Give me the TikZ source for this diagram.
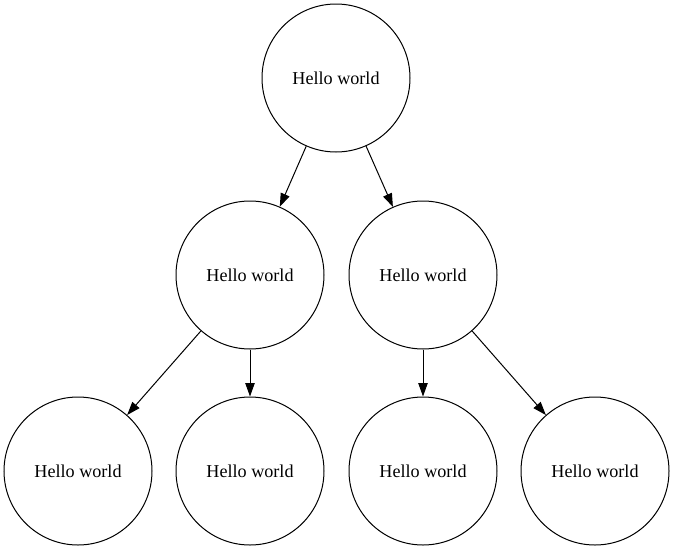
\documentclass[tikz,border=0pt]{standalone}
\usepackage{fontspec}
\setmainfont{Liberation Serif}
\usetikzlibrary{arrows.meta}

\begin{document}
\begin{tikzpicture}[x=0.75pt,y=-0.75pt]
      \useasboundingbox (0,0) rectangle (675,550);
      \begin{scope}[every node/.style={draw,circle,line width=0.75pt,minimum size=111pt,inner sep=0pt,font=\fontsize{13.6}{16}\selectfont}]
        \node (A) at (336,78) {Hello world};
        \node (B) at (250,275) {Hello world};
        \node (C) at (423,275) {Hello world};
        \node (D) at (78,471) {Hello world};
        \node (E) at (250,471) {Hello world};
        \node (F) at (423,471) {Hello world};
        \node (G) at (595,471) {Hello world};
      \end{scope}

      \begin{scope}[every edge/.style={draw,line width=0.75pt,-{Triangle[length=10pt,width=7pt]}}]
        \path (A) edge (B);
        \path (A) edge (C);
        \path (B) edge (D);
        \path (B) edge (E);
        \path (C) edge (F);
        \path (C) edge (G);
      \end{scope}
    \end{tikzpicture}
\end{document}
